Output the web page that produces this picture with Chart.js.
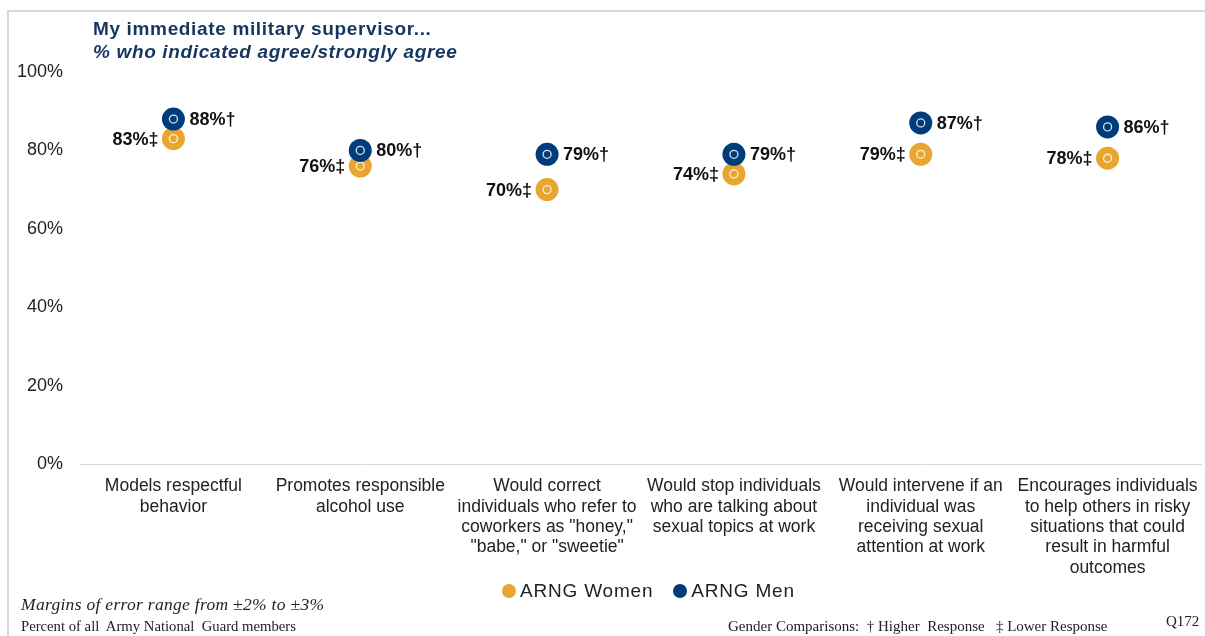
<!DOCTYPE html>
<html>
<head>
<meta charset="utf-8">
<script src="https://cdn.jsdelivr.net/npm/chart.js@4"></script>
<style>
  html, body { margin: 0; padding: 0; background: #fff; }
  #wrap { position: relative; width: 1205px; height: 636px; overflow: hidden; font-family: "Liberation Sans", Arial, sans-serif; }
  #frame { position: absolute; left: 7px; top: 10px; width: 1300px; height: 700px; border: 2px solid #d9d9d9; box-sizing: border-box; }
  canvas { position: absolute; left: 0; top: 0; }
  .t { position: absolute; white-space: nowrap; }
  #title { left: 93px; top: 18px; font-size: 19px; font-weight: bold; color: #14365f; letter-spacing: 0.65px; }
  #subtitle { left: 93px; top: 41px; font-size: 19px; font-weight: bold; font-style: italic; color: #14365f; letter-spacing: 0.65px; }
  .serif { font-family: "Liberation Serif", "Times New Roman", serif; color: #222; }
  #moe { left: 21px; top: 594px; font-size: 17.5px; font-style: italic; letter-spacing: 0.3px; }
  #pop { left: 21px; top: 618px; font-size: 14.7px; }
  #gc { left: 728px; top: 618px; font-size: 15px; }
  #q { left: 1166px; top: 613px; font-size: 15px; }
  #legend { left: 502px; top: 580px; font-size: 19px; color: #222; display: flex; align-items: center; letter-spacing: 0.8px; }
  .dot { display: inline-block; width: 14px; height: 14px; border-radius: 50%; margin-right: 4px; }
</style>
</head>
<body>
<div id="wrap">
  <div id="frame"></div>
  <canvas id="c" width="1205" height="636"></canvas>
  <div class="t" id="title">My immediate military supervisor...</div>
  <div class="t" id="subtitle">% who indicated agree/strongly agree</div>
  <div class="t" id="legend"><span class="dot" style="background:#e8a630"></span><span>ARNG Women</span><span style="width:20px"></span><span class="dot" style="background:#003b7a"></span><span>ARNG Men</span></div>
  <div class="t serif" id="moe">Margins of error range from ±2% to ±3%</div>
  <div class="t serif" id="pop">Percent of all&nbsp; Army National&nbsp; Guard members</div>
  <div class="t serif" id="gc">Gender Comparisons:&nbsp; † Higher&nbsp; Response&nbsp;&nbsp; ‡ Lower Response</div>
  <div class="t serif" id="q">Q172</div>
</div>
<script>
const categories = [
  ["Models respectful", "behavior"],
  ["Promotes responsible", "alcohol use"],
  ["Would correct", "individuals who refer to", "coworkers as \"honey,\"", "\"babe,\" or \"sweetie\""],
  ["Would stop individuals", "who are talking about", "sexual topics at work"],
  ["Would intervene if an", "individual was", "receiving sexual", "attention at work"],
  ["Encourages individuals", "to help others in risky", "situations that could", "result in harmful", "outcomes"]
];
const womenValues = [83, 76, 70, 74, 79, 78];
const menValues = [88, 80, 79, 79, 87, 86];
const womenMarks = ["‡", "‡", "‡", "‡", "‡", "‡"];
const menMarks = ["†", "†", "†", "†", "†", "†"];
const yTicks = [0, 20, 40, 60, 80, 100];

const ORANGE = "#e8a630";
const NAVY = "#003b7a";

const ringPlugin = {
  id: "ring",
  afterDatasetDraw(chart, args) {
    const ctx = chart.ctx;
    const ds = chart.data.datasets[args.index];
    ctx.save();
    args.meta.data.forEach((pt, i) => {
      ctx.beginPath();
      ctx.arc(pt.x, pt.y, 4, 0, Math.PI * 2);
      ctx.strokeStyle = "rgba(255,255,255,0.85)";
      ctx.lineWidth = 1.3;
      ctx.stroke();
      const v = ds.data[i];
      const txt = v + "%" + ds.marks[i];
      ctx.font = "bold 18px 'Liberation Sans', Arial, sans-serif";
      ctx.fillStyle = "#111";
      ctx.textBaseline = "middle";
      if (ds.side === "right") {
        ctx.textAlign = "left";
        ctx.fillText(txt, pt.x + 16, pt.y + 1);
      } else {
        ctx.textAlign = "right";
        ctx.fillText(txt, pt.x - 15, pt.y + 1);
      }
    });
    ctx.restore();
  }
};

new Chart(document.getElementById("c"), {
  type: "line",
  data: {
    labels: categories,
    datasets: [
      {
        label: "ARNG Men",
        data: menValues,
        marks: menMarks,
        side: "right",
        showLine: false,
        pointRadius: 11.5,
        pointHoverRadius: 11.5,
        pointBackgroundColor: NAVY,
        pointBorderColor: NAVY,
        pointBorderWidth: 0,
        backgroundColor: NAVY,
        borderColor: NAVY,
        order: 0
      },
      {
        label: "ARNG Women",
        data: womenValues,
        marks: womenMarks,
        side: "left",
        showLine: false,
        pointRadius: 11.5,
        pointHoverRadius: 11.5,
        pointBackgroundColor: ORANGE,
        pointBorderColor: ORANGE,
        pointBorderWidth: 0,
        backgroundColor: ORANGE,
        borderColor: ORANGE,
        order: 1
      }
    ]
  },
  options: {
    responsive: false,
    animation: false,
    events: [],
    layout: { autoPadding: false, padding: { top: 72, right: 4, left: 0, bottom: 0 } },
    plugins: { legend: { display: false }, tooltip: { enabled: false } },
    scales: {
      x: {
        type: "category",
        offset: true,
        grid: { display: false, drawTicks: false },
        border: { display: true, color: "#d9d9d9", width: 1 },
        ticks: {
          color: "#222",
          font: { family: "'Liberation Sans', Arial, sans-serif", size: 17.5, lineHeight: 1.17 },
          padding: 12,
          maxRotation: 0,
          autoSkip: false
        },
        afterFit(s) { s.height = 172; s.paddingLeft = 0; s.paddingRight = 0; }
      },
      y: {
        min: 0,
        max: 100,
        afterBuildTicks(s) { s.ticks = yTicks.map(v => ({ value: v })); },
        grid: { display: false, drawTicks: false },
        border: { display: false },
        ticks: {
          color: "#222",
          font: { family: "'Liberation Sans', Arial, sans-serif", size: 18 },
          padding: 17,
          callback: v => v + "%"
        },
        afterFit(s) { s.width = 80; s.paddingTop = 0; s.paddingBottom = 0; }
      }
    }
  },
  plugins: [ringPlugin]
});
</script>
</body>
</html>
